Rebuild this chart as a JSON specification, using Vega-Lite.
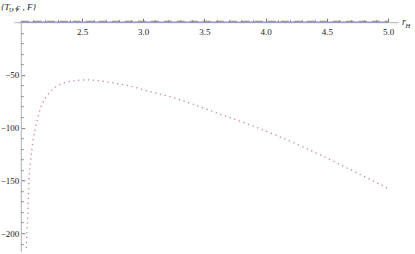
{
  "$schema": "https://vega.github.io/schema/vega-lite/v6.json",
  "width": 384,
  "height": 229.5,
  "autosize": "none",
  "padding": {"left": 14, "top": 22.2, "right": 17, "bottom": 2.3},
  "background": "white",
  "config": {"view": {"stroke": null}, "font": "Liberation Serif"},
  "data": {"values": [
    {"r": 2.0, "v": 0.0, "s": "T_U"},
    {"r": 2.5, "v": 0.0, "s": "T_U"},
    {"r": 3.0, "v": 0.0, "s": "T_U"},
    {"r": 3.5, "v": 0.0, "s": "T_U"},
    {"r": 4.0, "v": 0.0, "s": "T_U"},
    {"r": 4.5, "v": 0.0, "s": "T_U"},
    {"r": 5.0, "v": 0.0, "s": "T_U"},
    {"r": 2.0, "v": 0.9, "s": "c_V"},
    {"r": 2.5, "v": 0.9, "s": "c_V"},
    {"r": 3.0, "v": 0.9, "s": "c_V"},
    {"r": 3.5, "v": 0.9, "s": "c_V"},
    {"r": 4.0, "v": 0.9, "s": "c_V"},
    {"r": 4.5, "v": 0.9, "s": "c_V"},
    {"r": 5.0, "v": 0.9, "s": "c_V"},
    {"r": 2.045, "v": -214, "s": "F"},
    {"r": 2.05, "v": -200, "s": "F"},
    {"r": 2.06, "v": -175, "s": "F"},
    {"r": 2.067, "v": -150, "s": "F"},
    {"r": 2.08, "v": -132, "s": "F"},
    {"r": 2.09, "v": -121, "s": "F"},
    {"r": 2.1, "v": -112, "s": "F"},
    {"r": 2.12, "v": -100, "s": "F"},
    {"r": 2.14, "v": -90, "s": "F"},
    {"r": 2.16, "v": -82, "s": "F"},
    {"r": 2.2, "v": -72, "s": "F"},
    {"r": 2.24, "v": -66, "s": "F"},
    {"r": 2.29, "v": -61, "s": "F"},
    {"r": 2.36, "v": -57.3, "s": "F"},
    {"r": 2.44, "v": -55.4, "s": "F"},
    {"r": 2.54, "v": -54.7, "s": "F"},
    {"r": 2.65, "v": -55.7, "s": "F"},
    {"r": 2.77, "v": -57.8, "s": "F"},
    {"r": 2.91, "v": -61, "s": "F"},
    {"r": 3.056, "v": -65.9, "s": "F"},
    {"r": 3.219, "v": -70.6, "s": "F"},
    {"r": 3.36, "v": -75.8, "s": "F"},
    {"r": 3.587, "v": -85.4, "s": "F"},
    {"r": 3.7, "v": -90, "s": "F"},
    {"r": 4.145, "v": -110, "s": "F"},
    {"r": 4.29, "v": -117.3, "s": "F"},
    {"r": 4.68, "v": -139, "s": "F"},
    {"r": 5.0, "v": -157.5, "s": "F"}
  ]},
  "resolve": {"axis": {"x": "independent", "y": "independent"}},
  "layer": [
    {
      "transform": [{"filter": "datum.s === 'T_U'"}],
      "mark": {"type": "line", "color": "#8c8ce0", "strokeWidth": 1.2},
      "encoding": {
        "x": {"field": "r", "type": "quantitative",
              "scale": {"domain": [1.9444, 5.0817], "nice": false, "zero": false},
              "axis": {"orient": "top", "values": [2.5, 3.0, 3.5, 4.0, 4.5, 5.0], "format": ".1f",
                       "grid": false, "domain": true, "domainColor": "#b0b0b0", "domainWidth": 1,
                       "ticks": true, "tickSize": 4, "tickColor": "#777777", "tickWidth": 1,
                       "labelFont": "Liberation Serif", "labelFontSize": 9, "labelColor": "#222222",
                       "labelBaseline": "top", "labelAlign": "center", "labelPadding": -9.5, "labelFlush": false,
                       "labelOverlap": false, "zindex": 0,
                       "title": "r", "titleFont": "Liberation Serif", "titleFontStyle": "italic", "titleFontWeight": "normal",
                       "titleFontSize": 9.5, "titleColor": "#222222", "titleAlign": "left", "titleBaseline": "alphabetic",
                       "titleAngle": 0, "titleX": 387.5, "titleY": 2.3}},
        "y": {"field": "v", "type": "quantitative",
              "scale": {"domain": [-217.5, 0], "nice": false, "zero": false},
              "axis": {"orient": "left", "offset": -6.8, "values": [-50, -100, -150, -200],
                       "grid": false, "domain": true, "domainColor": "#b0b0b0", "domainWidth": 1,
                       "ticks": true, "tickSize": -4, "tickColor": "#777777", "tickWidth": 1,
                       "labelFont": "Liberation Serif", "labelFontSize": 9, "labelColor": "#222222",
                       "labelBaseline": "middle", "labelAlign": "right", "labelPadding": 6, "labelFlush": false,
                       "labelOverlap": false, "zindex": 0,
                       "title": "{T  , c  , F}", "titleFont": "Liberation Serif", "titleFontStyle": "italic", "titleFontWeight": "normal",
                       "titleFontSize": 9, "titleColor": "#222222", "titleAlign": "left", "titleBaseline": "alphabetic",
                       "titleAngle": 0, "titleX": -20.3, "titleY": -12.7}}
      }
    },
    {
      "transform": [{"filter": "datum.s === 'c_V'"}],
      "mark": {"type": "line", "color": "#8f8a6a", "strokeWidth": 1, "strokeDash": [8, 5]},
      "encoding": {
        "x": {"field": "r", "type": "quantitative",
              "axis": {"orient": "top", "values": [2.1, 2.2, 2.3, 2.4, 2.6, 2.7, 2.8, 2.9, 3.1, 3.2, 3.3, 3.4, 3.6, 3.7, 3.8, 3.9, 4.1, 4.2, 4.3, 4.4, 4.6, 4.7, 4.8, 4.9],
                       "grid": false, "domain": false, "labels": false,
                       "ticks": true, "tickSize": 2.5, "tickColor": "#888888", "tickWidth": 1, "zindex": 0,
                       "title": "H", "titleFont": "Liberation Serif", "titleFontStyle": "italic", "titleFontWeight": "normal",
                       "titleFontSize": 6.5, "titleColor": "#222222", "titleAlign": "left", "titleBaseline": "alphabetic",
                       "titleAngle": 0, "titleX": 391, "titleY": 4.8}},
        "y": {"field": "v", "type": "quantitative",
              "axis": {"orient": "left", "offset": -6.8, "values": [-10, -20, -30, -40, -60, -70, -80, -90, -110, -120, -130, -140, -160, -170, -180, -190, -210],
                       "grid": false, "domain": false, "labels": false,
                       "ticks": true, "tickSize": -2.5, "tickColor": "#888888", "tickWidth": 1, "zindex": 0,
                       "title": "U       V", "titleFont": "Liberation Serif", "titleFontStyle": "italic", "titleFontWeight": "normal",
                       "titleFontSize": 6, "titleColor": "#222222", "titleAlign": "left", "titleBaseline": "alphabetic",
                       "titleAngle": 0, "titleX": -12.2, "titleY": -11.2}}
      }
    },
    {
      "transform": [{"filter": "datum.s === 'F'"}],
      "mark": {"type": "line", "color": "#d17fad", "strokeWidth": 1.3, "strokeDash": [1.3, 3.6], "interpolate": "monotone"},
      "encoding": {
        "x": {"field": "r", "type": "quantitative", "axis": null},
        "y": {"field": "v", "type": "quantitative", "axis": null}
      }
    }
  ]
}
